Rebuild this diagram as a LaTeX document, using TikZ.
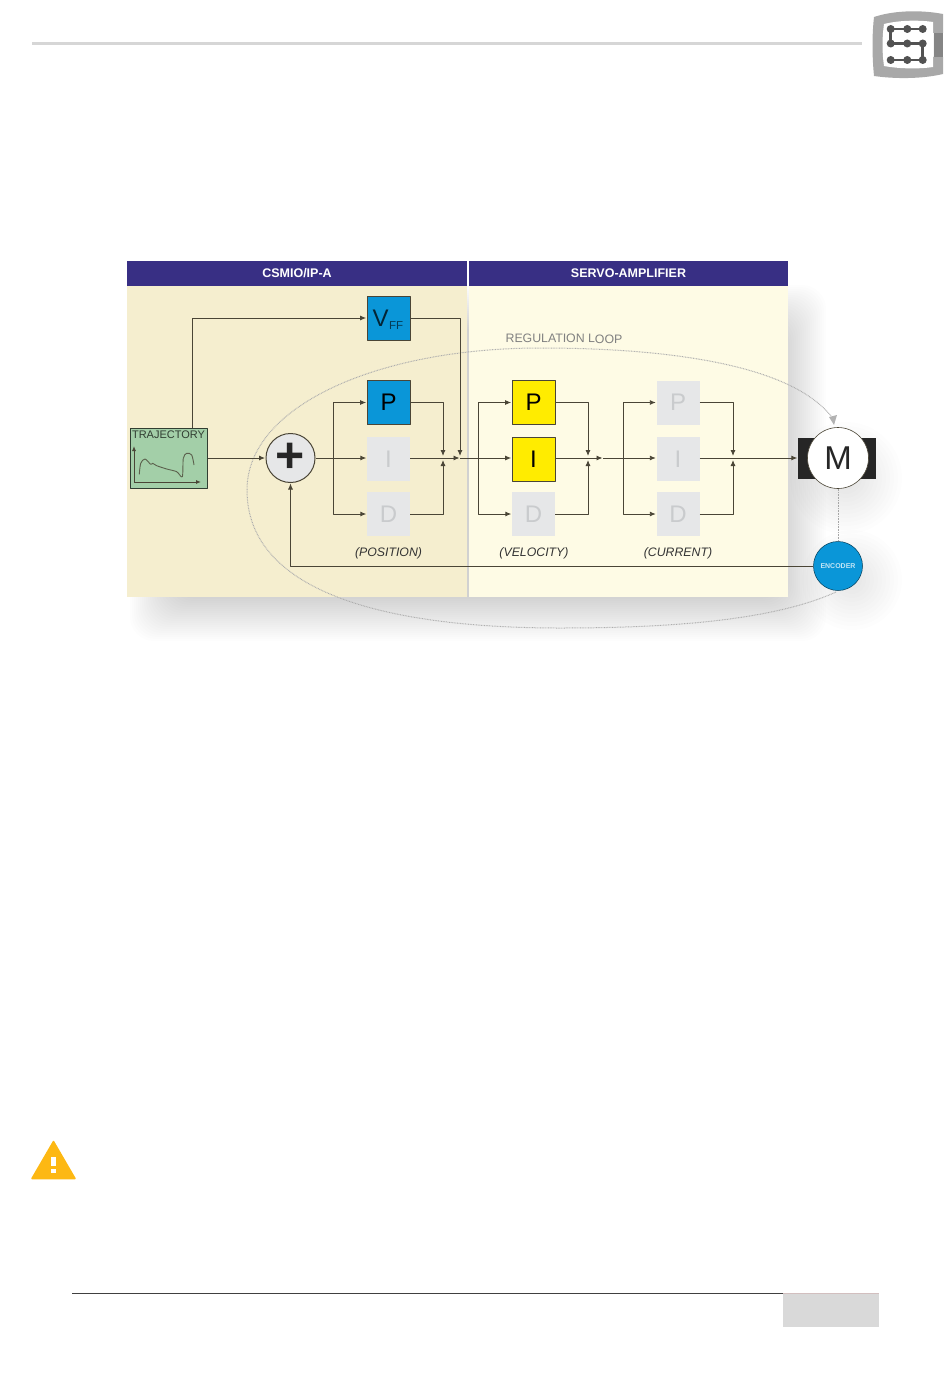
\documentclass[tikz,border=0pt]{standalone}
\usepackage{fontspec}
\setmainfont{Liberation Sans}
\usetikzlibrary{arrows.meta}
\definecolor{headblue}{HTML}{382F84}
\definecolor{panelA}{HTML}{F5EECF}
\definecolor{panelB}{HTML}{FEFBE5}
\definecolor{pidblue}{HTML}{0A96D8}
\definecolor{pidyellow}{HTML}{FFEC00}
\definecolor{pidgrey}{HTML}{E6E7E8}
\definecolor{pidtext}{HTML}{C9CBCD}
\definecolor{wirecol}{HTML}{4A4536}
\definecolor{trajgreen}{HTML}{A3CFA8}
\definecolor{logogrey}{HTML}{A8A8A8}
\definecolor{warnamber}{HTML}{FDB813}
\newcommand{\fsize}[1]{\fontsize{#1}{#1}\selectfont}
\begin{document}
\begin{tikzpicture}[x=1pt,y=-1pt,join=round, %all coordinates are page pixels
    headbar/.style={fill=headblue,draw=none,text=white,font=\fsize{12.5}\bfseries,minimum height=25pt,inner sep=0pt},
    pidbox/.style={minimum width=43pt,minimum height=44pt,inner sep=0pt,font=\fsize{24}},
    pidon/.style={pidbox,draw=wirecol,line width=.7pt},
    pidoff/.style={pidbox,fill=pidgrey,text=pidtext},
    wire/.style={draw=wirecol,line width=.9pt},
    tip/.style={wire,-{Latex[length=6pt,width=5pt]},shorten >=.5pt},
    mergetip/.style={wire,-{Latex[length=6pt,width=5pt]},shorten >=2pt},
    looptag/.style={font=\fsize{12.3}\itshape,text=black!80}]
    \useasboundingbox (0,0) rectangle (950,1378);
    % page furniture
    \draw[line width=3pt,black!16] (32,44)--(862,44);
    \draw[line width=.8pt,black!75] (72,1293)--(783,1293);
    \fill[black!15] (783,1293) rectangle (879,1327);
    \draw[line width=.8pt,red!30!black!25] (783,1293)--(879,1293);
    % logo
    \fill[logogrey] (874,17) .. controls (895,10) and (922,10) .. (943,14) -- (943,33) -- (933,33) -- (933,57) -- (943,57) -- (943,74) .. controls (922,79) and (895,79) .. (874,76) .. controls (872,55) and (872,35) .. (874,17) -- cycle;
    \fill[white] (884,24) .. controls (900,20) and (920,20) .. (933,22) -- (933,67) .. controls (920,69) and (900,69) .. (884,66) .. controls (882,52) and (882,38) .. (884,24) -- cycle;
    \fill[black!48] (933.5,33) rectangle (943,57);
    \draw[line width=2.6pt,black!68] (890.7,29)--(922.7,29) (890.7,29)--(890.7,43.5)--(922.7,43.5)--(922.7,60) (890.7,60)--(922.7,60);
    \foreach \x in {890.7,907.3,922.7}
      \foreach \y in {29,43.5,60}
        \fill[black!68] (\x,\y) circle (4pt);
    % warning sign
    \fill[warnamber,draw=warnamber,line width=1.5pt] (53.5,1141.5)--(75,1178.5)--(32,1178.5)--cycle;
    \fill[white] (51,1157) rectangle (56,1166);
    \fill[white] (51,1169) rectangle (56,1173);
    % shadows
    \foreach \s in {0,2,...,44} {
      \fill[black,opacity=.007,rounded corners=24pt] (130+\s,285+\s) rectangle (826-\s,641-\s);
    }
    \foreach \s in {0,2,...,24} {
      \fill[black,opacity=.008] (846,478) circle (56pt-2*\s);
      \fill[black,opacity=.008] (852,580) circle (50pt-2*\s);
    }
    % panels
    \fill[panelA] (127,285) rectangle (467,597);
    \fill[panelB] (469,285) rectangle (788,597);
    \node[headbar,minimum width=340pt] (heada) at (297,273.5) {CSMIO/IP-A};
    \node[headbar,minimum width=319pt] (headb) at (628.5,273.5) {SERVO-AMPLIFIER};
    % regulation loop
    \draw[black!32,line width=1pt,dash pattern=on .8pt off .8pt] (836,592) .. controls (770,622) and (660,628) .. (560,628)
       .. controls (380,628) and (247,590) .. (247,490) .. controls (247,405) and (380,348) .. (540,348)
       .. controls (670,348) and (790,365) .. (831,416);
    \fill[black!30] (829,417)--(837,415)--(834,425)--cycle;
    \node[font=\fsize{12.3},text=black!50,rotate=-.5] (looplabel) at (564,338.5) {REGULATION LOOP};
    % blocks
    \node[pidon,fill=pidblue] (vff) at (388.5,318) {};
    \node[anchor=base west,inner sep=0pt,font=\fsize{24},text=black!75!pidblue] (vfftext) at (372.5,326) {V};
    \node[anchor=base west,inner sep=0pt,font=\fsize{11.5},text=black!60!pidblue] (vffsub) at (389,329.5) {FF};
    \node[pidon,fill=pidblue] (pa) at (388.5,402.5) {P};
    \node[pidoff] (ia) at (388.5,459) {I};
    \node[pidoff] (da) at (388.5,514) {D};
    \node[pidon,fill=pidyellow] (pb) at (533.5,402.5) {P};
    \node[pidon,fill=pidyellow] (ib) at (533.5,459) {I};
    \node[pidoff] (db) at (533.5,514) {D};
    \node[pidoff] (pc) at (678,402.5) {P};
    \node[pidoff] (ic) at (678,459) {I};
    \node[pidoff] (dc) at (678,514) {D};
    \node[looptag] (posl) at (388.5,553) {(POSITION)};
    \node[looptag] (vell) at (534,553) {(VELOCITY)};
    \node[looptag] (curl) at (678,553) {(CURRENT)};
    \node[draw=black!70!trajgreen,fill=trajgreen,line width=1pt,minimum width=77pt,minimum height=60pt,inner sep=0pt] (traj) at (168.5,458) {};
    \node[font=\fsize{11},text=black!70!trajgreen,inner sep=0pt] (trajtext) at (168.5,434.5) {TRAJECTORY};
    \draw[wirecol,line width=.9pt,-{Latex[length=5pt,width=4pt]}] (134,482)--(134,446);
    \draw[wirecol,line width=.9pt,-{Latex[length=5pt,width=4pt]}] (134,482)--(201,482);
    \draw[wirecol!80!trajgreen,line width=.9pt] plot[smooth,tension=.5] coordinates {(139.3,474.3) (140.7,463.3) (145,459) (150.7,464.3) (152.7,463.3) (156.7,465.7) (166.7,469) (176.7,471.7) (182.3,476.7) (183.3,458.3) (186.7,453.3) (191.7,455) (194,465)};
    \node[circle,draw=wirecol,line width=1pt,fill=pidgrey,minimum size=49pt,inner sep=0pt,font=\fsize{50}\bfseries,text=black!85] (sum) at (290.5,458) {\raisebox{-2pt}{+}};
    \node[fill=black!85,minimum width=78pt,minimum height=41pt,inner sep=0pt] (motorbase) at (837,458.5) {};
    \node[circle,draw=wirecol,line width=.6pt,fill=white,minimum size=61pt,inner sep=0pt,font=\fsize{33},text=black!85] (motor) at (838,458) {M};
    \node[circle,draw=black!60!pidblue,line width=.5pt,fill=pidblue,minimum size=49pt,inner sep=0pt,font=\fsize{7}\bfseries,text=white!75!pidblue] (encoder) at (838,566) {ENCODER};
    % junctions
    \coordinate (traj out) at (192,428);
    \coordinate (splita) at (333,458);
    \coordinate (splitb) at (478,458);
    \coordinate (splitc) at (623,458);
    \coordinate (mergea) at (443,458);
    \coordinate (mergeb) at (588,458);
    \coordinate (mergec) at (733,458);
    \coordinate (vffin) at (460,458);
    \coordinate (midtip) at (603,458);
    % connectors
    \draw[tip] (traj out) |- (vff.west);
    \draw[tip] (traj.east) -- (sum.west);
    \draw[tip] (sum.east) -- (ia.west |- sum.east);
    \draw[wire] (ia.east |- sum.east) -- (mergea);
    \draw[tip] (mergea) -- (vffin);
    \draw[tip] (vffin) -- (ib.west |- vffin);
    \draw[wire] (ib.east |- mergeb) -- (mergeb);
    \draw[tip] (mergeb) -- (midtip);
    \draw[tip] (midtip) -- (ic.west |- midtip);
    \draw[wire] (ic.east |- mergec) -- (mergec);
    \draw[tip] (mergec) -- (motorbase.west |- mergec);
    \draw[mergetip] (vff.east) -| (vffin);
    \foreach \s/\pp/\dd/\m in {splita/pa/da/mergea,splitb/pb/db/mergeb,splitc/pc/dc/mergec} {
      \draw[tip] (\s) |- (\pp.west);
      \draw[tip] (\s) |- (\dd.west);
      \draw[mergetip] (\pp.east) -| (\m);
      \draw[mergetip] (\dd.east) -| (\m);
    }
    \draw[wirecol,line width=.7pt,-{Latex[length=6pt,width=5pt]},shorten >=.5pt] (encoder.west) -| (sum.south);
    \draw[black!35,line width=1pt,dash pattern=on .8pt off .8pt] (motor.south) -- (encoder.north);
\end{tikzpicture}
\end{document}
